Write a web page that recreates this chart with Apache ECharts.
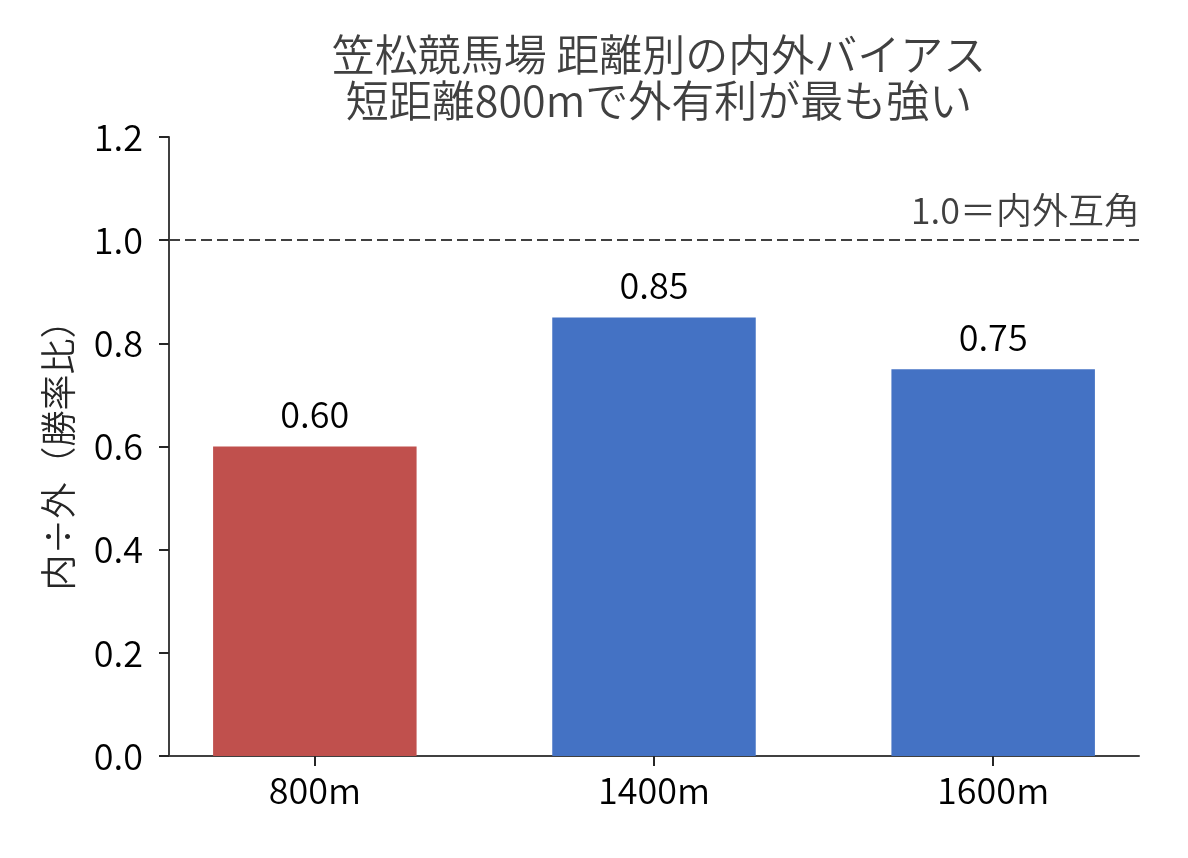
<!DOCTYPE html>
<html>
<head>
<meta charset="utf-8">
<script src="https://cdn.jsdelivr.net/npm/echarts@6/dist/echarts.min.js"></script>
<style>
html,body{margin:0;padding:0;background:#fff;}
#main{width:1188px;height:858px;}
</style>
</head>
<body>
<div id="main"></div>
<script>
const categories = ['800m', '1400m', '1600m'];
const ratios = [0.60, 0.85, 0.75];
const refValue = 1.0;
const refLabel = '1.0＝内外互角';
const titleText = '笠松競馬場 距離別の内外バイアス\n短距離800mで外有利が最も強い';
const yName = '内÷外（勝率比）';
const barColors = ['#C0504D', '#4472C4', '#4472C4'];

const FONT = "'Noto Sans CJK JP', 'Noto Sans', sans-serif";
const W = 350;
const chart = echarts.init(document.getElementById('main'), null, {renderer: 'canvas'});

const barData = ratios.map((v, i) => ({
  value: [i, v],
  itemStyle: {color: barColors[i]}
}));

chart.setOption({
  backgroundColor: '#ffffff',
  animation: false,
  textStyle: {fontFamily: FONT},
  title: {
    text: titleText,
    left: 654,
    textAlign: 'center',
    top: 27,
    textStyle: {fontFamily: FONT, fontSize: 43, fontWeight: W, color: '#404040', lineHeight: 46}
  },
  grid: {left: 169, right: 49, top: 137, bottom: 102, containLabel: false},
  xAxis: {
    type: 'value',
    min: -0.43,
    max: 2.43,
    splitLine: {show: false},
    axisLine: {show: true, onZero: false, lineStyle: {color: '#404040', width: 2}},
    axisTick: {show: true, length: 10, lineStyle: {color: '#262626', width: 2}, customValues: categories.map((c, i) => i)},
    axisLabel: {
      customValues: categories.map((c, i) => i),
      formatter: v => categories[Math.round(v)] || '',
      fontFamily: FONT, fontSize: 36, fontWeight: W, color: '#000', margin: 16
    }
  },
  yAxis: {
    type: 'value',
    min: 0,
    max: 1.2,
    interval: 0.2,
    name: yName,
    nameLocation: 'middle',
    nameRotate: 90,
    nameGap: 93,
    nameTextStyle: {fontFamily: FONT, fontSize: 36, fontWeight: W, color: '#262626'},
    splitLine: {show: false},
    axisLine: {show: true, onZero: false, lineStyle: {color: '#404040', width: 2}},
    axisTick: {show: true, length: 10, lineStyle: {color: '#262626', width: 2}},
    axisLabel: {
      formatter: v => v.toFixed(1),
      fontFamily: FONT, fontSize: 36, fontWeight: W, color: '#000', margin: 26
    }
  },
  series: [{
    type: 'bar',
    data: barData,
    barWidth: '60%',
    label: {
      show: true,
      position: 'top',
      distance: 14,
      formatter: p => p.value[1].toFixed(2),
      fontFamily: FONT, fontSize: 36, fontWeight: W, color: '#000'
    },
    markLine: {
      silent: true,
      symbol: 'none',
      lineStyle: {type: [11, 5], color: '#404040', width: 2},
      label: {
        show: true,
        position: 'insideEndTop',
        formatter: refLabel,
        distance: [-1, 12],
        fontFamily: FONT, fontSize: 36, fontWeight: W, color: '#404040'
      },
      emphasis: {disabled: true},
      data: [{yAxis: refValue}]
    }
  }]
});
</script>
</body>
</html>
